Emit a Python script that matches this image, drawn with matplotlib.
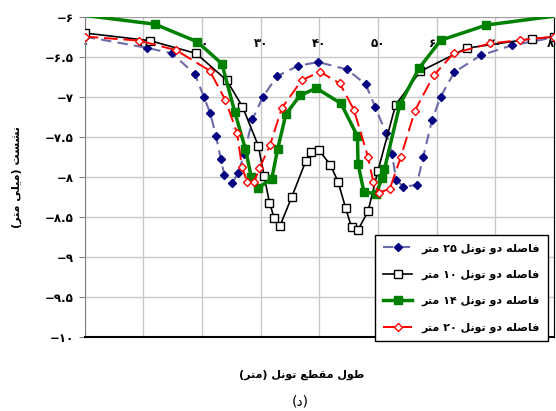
import numpy as np
import matplotlib
matplotlib.use('Agg')
import matplotlib.pyplot as plt

plt.rcParams['font.family'] = ['DejaVu Sans']

# نشست در طول مقطع تونل برای فاصله‌های مختلف دو تونل
x_25 = [0, 10.6, 14.9, 18.8, 20.3, 21.4, 22.4, 23.2, 23.8, 25.2, 26.2, 27.2, 28.6, 30.4,
        32.8, 36.4, 39.8, 44.7, 47.9, 49.5, 51.4, 52.4, 53.1, 54.3, 56.6, 57.7, 59.2,
        60.7, 63.0, 67.5, 72.8, 80]
y_25 = [-6.245, -6.385, -6.455, -6.715, -6.995, -7.2, -7.49, -7.775, -7.97, -8.07, -7.945,
        -7.71, -7.28, -6.995, -6.74, -6.61, -6.5625, -6.655, -6.84, -7.12, -7.455, -7.715,
        -8.035, -8.12, -8.10, -7.755, -7.29, -6.995, -6.69, -6.48, -6.355, -6.255]

x_10 = [0, 11.1, 19.0, 24.2, 26.9, 29.6, 30.6, 31.5, 32.3, 33.3, 35.3, 37.7, 38.5, 39.9,
        41.9, 43.2, 44.5, 45.5, 46.6, 48.3, 50.0, 53.0, 57.2, 65.1, 76.3, 80]
y_10 = [-6.2, -6.295, -6.455, -6.79, -7.12, -7.61, -7.99, -8.32, -8.51, -8.61, -8.25, -7.80,
        -7.69, -7.66, -7.85, -8.06, -8.39, -8.63, -8.66, -8.43, -7.92, -7.10, -6.68, -6.39,
        -6.27, -6.25]

x_14 = [0, 12.0, 19.2, 23.4, 25.6, 27.4, 28.4, 29.5, 31.9, 32.9, 34.3, 36.7, 39.5, 43.7,
        46.5, 46.6, 47.6, 49.7, 50.7, 51.1, 53.7, 57.0, 60.7, 68.5, 80]
y_14 = [-5.98, -6.09, -6.31, -6.585, -7.19, -7.65, -8.0, -8.14, -8.02, -7.65, -7.215, -6.98,
        -6.89, -7.08, -7.49, -7.835, -8.185, -8.21, -8.01, -7.905, -7.10, -6.64, -6.29,
        -6.10, -5.99]

x_20 = [0, 9.3, 15.6, 21.3, 24.0, 26.0, 26.8, 27.7, 28.9, 29.8, 31.6, 33.6, 37.0, 40.1,
        43.5, 45.9, 48.3, 49.2, 50.1, 52.0, 53.9, 56.3, 59.5, 62.9, 69.1, 74.2, 80]
y_20 = [-6.245, -6.295, -6.415, -6.67, -7.04, -7.455, -7.87, -8.06, -8.06, -7.89, -7.6,
        -7.14, -6.79, -6.685, -6.83, -7.16, -7.75, -8.06, -8.195, -8.15, -7.75, -7.17,
        -6.73, -6.455, -6.33, -6.29, -6.245]

x_ticks = [0, 10, 20, 30, 40, 50, 60, 70, 80]
y_ticks = [-6, -6.5, -7, -7.5, -8, -8.5, -9, -9.5, -10]

labels = ['فاصله دو تونل 25 متر', 'فاصله دو تونل 10 متر',
          'فاصله دو تونل 14 متر', 'فاصله دو تونل 20 متر']
y_title = 'نشست (میلی متر)'
x_title = 'طول مقطع تونل (متر)'
caption = '(د)'

# شکل‌های حروف: تنها، پایانی، آغازی، میانی
FORMS = {
    'ا': ('\uFE8D', '\uFE8E', None, None),
    'د': ('\uFEA9', '\uFEAA', None, None),
    'ر': ('\uFEAD', '\uFEAE', None, None),
    'و': ('\uFEED', '\uFEEE', None, None),
    'ت': ('\uFE95', '\uFE96', '\uFE97', '\uFE98'),
    'س': ('\uFEB1', '\uFEB2', '\uFEB3', '\uFEB4'),
    'ش': ('\uFEB5', '\uFEB6', '\uFEB7', '\uFEB8'),
    'ص': ('\uFEB9', '\uFEBA', '\uFEBB', '\uFEBC'),
    'ط': ('\uFEC1', '\uFEC2', '\uFEC3', '\uFEC4'),
    'ع': ('\uFEC9', '\uFECA', '\uFECB', '\uFECC'),
    'ف': ('\uFED1', '\uFED2', '\uFED3', '\uFED4'),
    'ق': ('\uFED5', '\uFED6', '\uFED7', '\uFED8'),
    'ل': ('\uFEDD', '\uFEDE', '\uFEDF', '\uFEE0'),
    'م': ('\uFEE1', '\uFEE2', '\uFEE3', '\uFEE4'),
    'ن': ('\uFEE5', '\uFEE6', '\uFEE7', '\uFEE8'),
    'ه': ('\uFEE9', '\uFEEA', '\uFEEB', '\uFEEC'),
    'ی': ('\uFEEF', '\uFEF0', '\uFEF3', '\uFEF4'),
}
FA_DIGITS = str.maketrans('0123456789-', '۰۱۲۳۴۵۶۷۸۹−')
MIRROR = {'(': ')', ')': '('}


def fa(text):
    text = text.translate(FA_DIGITS)
    out = []
    for i, ch in enumerate(text):
        if ch not in FORMS:
            out.append(ch)
            continue
        prev = text[i - 1] if i > 0 else ''
        nxt = text[i + 1] if i + 1 < len(text) else ''
        dual = FORMS[ch][2] is not None
        join_prev = prev in FORMS and FORMS[prev][2] is not None
        join_next = dual and nxt in FORMS
        if join_prev and join_next:
            out.append(FORMS[ch][3])
        elif join_prev:
            out.append(FORMS[ch][1])
        elif join_next:
            out.append(FORMS[ch][2])
        else:
            out.append(FORMS[ch][0])
    # ترتیب دیداری راست به چپ، اعداد چپ به راست
    vis = [MIRROR.get(c, c) for c in reversed(out)]
    res, run = [], []
    for c in vis:
        if c in '۰۱۲۳۴۵۶۷۸۹.':
            run.append(c)
        else:
            res.extend(reversed(run))
            run = []
            res.append(c)
    res.extend(reversed(run))
    return ''.join(res)


def num(v):
    s = ('%g' % v).translate(FA_DIGITS)
    return s


fig = plt.figure(figsize=(5.56, 4.11), dpi=100)
ax = fig.add_axes([0.1523, 0.180, 0.844, 0.7786])

ax.plot(x_25, y_25, color='#6b6ba8', lw=1.5, dashes=(5, 3), marker='D', ms=4.5,
        mfc='#000080', mec='#000080', label=fa(labels[0]), zorder=3)
ax.plot(x_10, y_10, color='black', lw=1.2, marker='s', ms=5.8,
        mfc='white', mec='black', mew=1, label=fa(labels[1]), zorder=4)
ax.plot(x_14, y_14, color='#008000', lw=2.5, marker='s', ms=5.8,
        mfc='#008000', mec='#008000', markevery=slice(1, -1),
        label=fa(labels[2]), zorder=5)
ax.plot(x_20, y_20, color='#ff0000', lw=1.4, dashes=(7, 3), marker='D', ms=4.5,
        mfc='white', mec='#ff0000', mew=1, label=fa(labels[3]), zorder=6)

ax.set_xlim(0, 80)
ax.set_ylim(-10, -6)
ax.set_xticks(x_ticks)
ax.set_xticklabels([num(v) for v in x_ticks], fontsize=8.5, fontweight='bold')
ax.set_yticks(y_ticks)
ax.set_yticklabels([num(v) for v in y_ticks], fontsize=8.5, fontweight='bold')
ax.tick_params(axis='x', top=False, bottom=False, labeltop=True, labelbottom=False,
               pad=-24, length=0)
ax.tick_params(axis='y', length=4, color='#808080', pad=4)
ax.grid(True, color='#c8c8c8', lw=1)

ax.spines['left'].set_color('#808080')
ax.spines['top'].set_color('#a0a0a0')
ax.spines['bottom'].set_color('black')
ax.spines['bottom'].set_linewidth(1.5)
ax.spines['right'].set_color('black')

ax.set_ylabel(fa(y_title), fontsize=8, fontweight='bold')
ax.yaxis.set_label_coords(-0.134, 0.5)
ax.set_xlabel(fa(x_title), fontsize=8, fontweight='bold')
ax.xaxis.set_label_coords(0.463, -0.103)

leg = ax.legend(loc='upper left', bbox_to_anchor=(375 / 556, 1 - 235 / 411),
                bbox_transform=fig.transFigure, prop={'size': 8, 'weight': 'bold'},
                frameon=True, fancybox=False, edgecolor='black', framealpha=1,
                handlelength=2.6, labelspacing=1.45, borderpad=0.75, borderaxespad=0)
leg.get_frame().set_linewidth(1)

fig.text(300 / 556, 1 - 401 / 411, fa(caption), fontsize=10, ha='center', va='center')

fig.savefig('out.png', dpi=100)
